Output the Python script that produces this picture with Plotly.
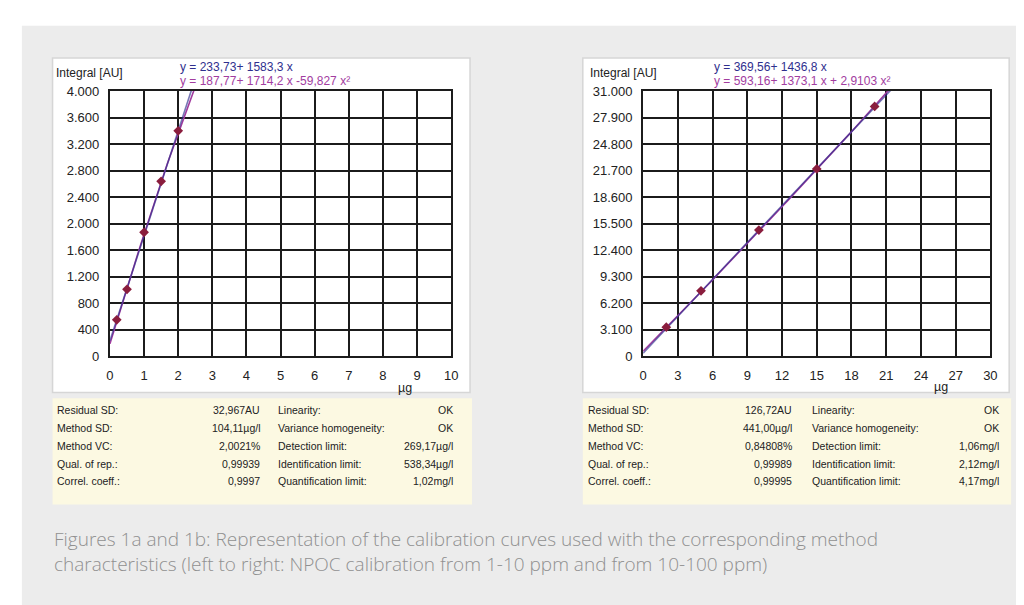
import numpy as np
import plotly.graph_objects as go

# measured calibration points (µg, integral AU)
left_x = [0.2, 0.5, 1.0, 1.5, 2.0]
left_y = [550, 1010, 1870, 2640, 3400]
right_x = [2, 5, 10, 15, 20]
right_y = [3400, 7650, 14750, 21900, 29200]

# fit coefficients as printed on the charts (highest power first)
left_lin = [1583.3, 233.73]
left_quad = [-59.827, 1714.2, 187.77]
right_lin = [1436.8, 369.56]
right_quad = [2.9103, 1373.1, 593.16]

left_eq = ["y = 233,73+ 1583,3 x", "y = 187,77+ 1714,2 x -59,827 x²"]
right_eq = ["y = 369,56+ 1436,8 x", "y = 593,16+ 1373,1 x + 2,9103 x²"]

row_labels_a = ["Residual SD:", "Method SD:", "Method VC:", "Qual. of rep.:", "Correl. coeff.:"]
row_labels_b = ["Linearity:", "Variance homogeneity:", "Detection limit:",
                "Identification limit:", "Quantification limit:"]
left_vals_a = ["32,967AU", "104,11µg/l", "2,0021%", "0,99939", "0,9997"]
left_vals_b = ["OK", "OK", "269,17µg/l", "538,34µg/l", "1,02mg/l"]
right_vals_a = ["126,72AU", "441,00µg/l", "0,84808%", "0,99989", "0,99995"]
right_vals_b = ["OK", "OK", "1,06mg/l", "2,12mg/l", "4,17mg/l"]

caption = ["Figures 1a and 1b: Representation of the calibration curves used with the corresponding method",
           "characteristics (left to right: NPOC calibration from 1-10 ppm and from 10-100 ppm)"]

W, H = 1024, 605


def px(x):
    return x / W


def py(y):
    return 1 - y / H


FONT = "Liberation Sans"
NAVY = "#2f2f8e"
MAGENTA = "#a23d9f"
GRID = "#1c1c1c"

fig = go.Figure()

# fit curves first, then the points on top
xl = np.linspace(0, 10, 201)
xr = np.linspace(0, 30, 201)
for xs, coef, col, op, ax in [
    (xl, left_quad, MAGENTA, 1.0, ("x", "y")),
    (xl, left_lin, NAVY, 0.65, ("x", "y")),
    (xr, right_quad, MAGENTA, 1.0, ("x2", "y2")),
    (xr, right_lin, NAVY, 0.65, ("x2", "y2")),
]:
    fig.add_trace(go.Scatter(x=xs, y=np.polyval(coef, xs), mode="lines",
                             line=dict(color=col, width=1.6), opacity=op,
                             xaxis=ax[0], yaxis=ax[1], hoverinfo="skip"))

for xs, ys, ax in [(left_x, left_y, ("x", "y")), (right_x, right_y, ("x2", "y2"))]:
    fig.add_trace(go.Scatter(x=xs, y=ys, mode="markers",
                             marker=dict(symbol="diamond", size=7.5, color="#8a1d3d"),
                             xaxis=ax[0], yaxis=ax[1]))

axis_common = dict(showgrid=True, gridcolor=GRID, gridwidth=2, showline=True,
                   linecolor=GRID, linewidth=2, mirror=True, zeroline=False,
                   ticks="outside", ticklen=6, tickcolor="rgba(0,0,0,0)",
                   tickfont=dict(family=FONT, size=13, color="#222"), fixedrange=True)

fig.update_layout(
    width=W, height=H, margin=dict(l=0, r=0, t=0, b=0),
    paper_bgcolor="white", plot_bgcolor="white", showlegend=False,
    separators=",.",
    xaxis=dict(domain=[px(99), px(444)], range=[0, 10], dtick=1, **axis_common),
    yaxis=dict(domain=[py(350), py(78)], range=[0, 4000], dtick=400,
               tickformat=",d", **axis_common),
    xaxis2=dict(domain=[px(638), px(989)], range=[0, 30], dtick=3, anchor="y2",
                **axis_common),
    yaxis2=dict(domain=[py(350), py(78)], range=[0, 31000], dtick=3100,
                tickformat=",d", anchor="x2", **axis_common),
)

shapes = [dict(type="rect", xref="paper", yref="paper", x0=px(10), x1=1, y0=0, y1=py(11),
               fillcolor="#ececec", line=dict(width=0), layer="below")]
for x0, x1 in [(41, 463), (577, 1008)]:
    shapes.append(dict(type="rect", xref="paper", yref="paper", x0=px(x0), x1=px(x1),
                       y0=py(387), y1=py(44), fillcolor="white",
                       line=dict(color="#d6d6d6", width=1.5), layer="below"))
    shapes.append(dict(type="rect", xref="paper", yref="paper", x0=px(x0), x1=px(x1 + 2),
                       y0=py(502), y1=py(393), fillcolor="#fcf9e2",
                       line=dict(width=0), layer="below"))
fig.update_layout(shapes=shapes)

ann = []


def text(x, y, s, color="#222", size=11.5, anchor="left", family=FONT, weight=None,
         yanchor="middle"):
    f = dict(family=family, size=size, color=color)
    if weight:
        f["weight"] = weight
    ann.append(dict(xref="paper", yref="paper", x=px(x), y=py(y), text=s, showarrow=False,
                    xanchor=anchor, yanchor=yanchor, align=anchor, font=f))


for ox, eqs in [(0, left_eq), (540, right_eq)]:
    text(42 + ox, 59, "Integral [AU]", size=12)
    text(168 + ox, 53, eqs[0], NAVY, size=12)
    text(168 + ox, 68, eqs[1], MAGENTA, size=12)

text(388, 382, "µg", size=12.5)
text(930, 381, "µg", size=12.5)

rows_y = [405, 423, 442, 460, 478]
for (lx, vx, l2x, v2x), va, vb in [((43, 253, 267, 448), left_vals_a, left_vals_b),
                                   ((580, 790, 807, 1000), right_vals_a, right_vals_b)]:
    for i, ry in enumerate(rows_y):
        text(lx, ry, row_labels_a[i], size=10.5)
        text(vx, ry, va[i], size=10.5, anchor="right")
        text(l2x, ry, row_labels_b[i], size=10.5)
        text(v2x, ry, vb[i], size=10.5, anchor="right")

# caption as one two-line text block
text(40, 522, "<br>".join(caption), color="#909090", size=19, family="Open Sans",
     weight=300, yanchor="top")

fig.update_layout(annotations=ann)
fig.write_html("out.html")
